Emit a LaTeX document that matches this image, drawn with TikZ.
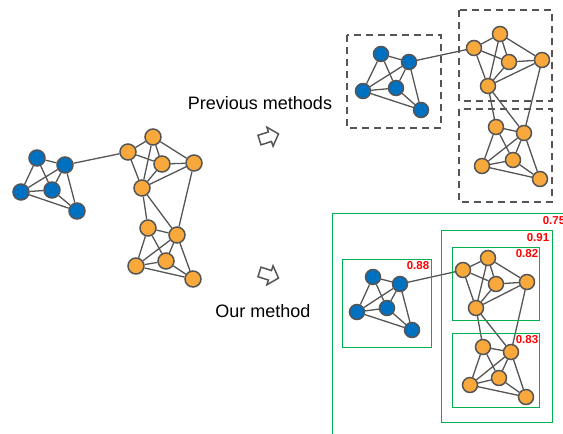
\documentclass[tikz,border=0pt]{standalone}
\usepackage{fontspec}
\setmainfont{Liberation Sans}
\definecolor{nblue}{HTML}{0070C0}
\definecolor{norange}{HTML}{F9A93B}
\definecolor{edgec}{HTML}{555555}
\definecolor{grn}{HTML}{00B050}
\tikzset{
  vb/.style={circle, draw=edgec, line width=1.5pt, fill=nblue, minimum size=15pt, inner sep=0pt},
  vo/.style={circle, draw=edgec, line width=1.5pt, fill=norange, minimum size=15pt, inner sep=0pt},
  lnk/.style={draw=edgec, line width=1.3pt},
  dbox/.style={draw=edgec, line width=1.8pt, dash pattern=on 7pt off 5pt},
  gbox/.style={draw=grn, line width=1pt},
  lab/.style={text=red, font=\bfseries\fontsize{11.5}{12}\selectfont, inner sep=0pt},
  ttl/.style={font=\fontsize{18}{20}\selectfont, inner sep=0pt},
  harrow/.style={draw=edgec, line width=1.5pt, line join=miter, fill=white}
}
\begin{document}
\begin{tikzpicture}[x=1pt,y=-1pt]
\useasboundingbox (0,0) rectangle (563,434);
\clip (0,0) rectangle (563,434);
% graph A (left)
\foreach \n/\x/\y in {1/37/158, 2/65/165, 3/21/192, 4/52/190, 5/77/211}
  \node[vb, minimum size=16pt] (Ab\n) at (\x,\y) {};
\foreach \n/\x/\y in {1/128/152, 2/153/137, 3/162/164, 4/194/163, 5/142/188}
  \node[vo, minimum size=16pt] (Ao\n) at (\x,\y) {};
\foreach \n/\x/\y in {1/148/228, 2/177/235, 3/136/266, 4/166/261, 5/193/279}
  \node[vo, minimum size=16pt] (Al\n) at (\x,\y) {};
% graph B (top right)
\foreach \n/\x/\y in {1/381/54, 2/409/62, 3/363/91, 4/396/88, 5/421/110}
  \node[vb] (Bb\n) at (\x,\y) {};
\foreach \n/\x/\y in {1/474/48, 2/500/34, 3/509/62, 4/542/60, 5/488/86}
  \node[vo] (Bo\n) at (\x,\y) {};
\foreach \n/\x/\y in {1/496/127, 2/524/133, 3/482/166, 4/513/160, 5/540/179}
  \node[vo] (Bl\n) at (\x,\y) {};
% graph C (bottom right)
\foreach \n/\x/\y in {1/373/277, 2/400/284, 3/357/312, 4/387/308, 5/412/330}
  \node[vb] (Cb\n) at (\x,\y) {};
\foreach \n/\x/\y in {1/463/270, 2/488/258, 3/496/284, 4/527/282, 5/476/308}
  \node[vo] (Co\n) at (\x,\y) {};
\foreach \n/\x/\y in {1/483/347, 2/511/352, 3/470/385, 4/499/378, 5/526/397}
  \node[vo] (Cl\n) at (\x,\y) {};
% edges
\foreach \g in {A,B,C}{
  \foreach \u/\v in {b1/b2, b1/b3, b1/b4, b2/b3, b2/b4, b2/b5, b3/b4, b3/b5, b4/b5,
                     o1/o2, o1/o3, o1/o5, o2/o3, o2/o4, o2/o5, o3/o4, o3/o5, o4/o5,
                     l1/l2, l1/l3, l1/l4, l2/l3, l2/l4, l2/l5, l3/l4, l3/l5, l4/l5,
                     b2/o1, o5/l1, o5/l2, o4/l2}
    \draw[lnk] (\g\u) -- (\g\v);
}
% dashed boxes
\draw[dbox] (347,35) rectangle (441,128);
\draw[dbox] (459,10) rectangle (552,101);
\draw[dbox] (459,109) rectangle (552,202);
% green boxes
\draw[gbox] (332,213) rectangle (620,470);
\draw[gbox] (441,230) rectangle (552,422);
\draw[gbox] (452,247) rectangle (539,320);
\draw[gbox] (452,333) rectangle (539,407);
\draw[gbox] (342,259) rectangle (431,347);
% scores
\node[lab] (s75) at (554,221) {0.75};
\node[lab] (s91) at (538,238) {0.91};
\node[lab] (s82) at (527,254) {0.82};
\node[lab] (s83) at (527,340) {0.83};
\node[lab] (s88) at (418,266) {0.88};
% titles
\node[ttl] (prev) at (260,103) {Previous methods};
\node[ttl] (ours) at (263,311) {Our method};
% hollow arrows
\begin{scope}[shift={(269,137)}, rotate=18]
  \draw[harrow] (-10,-5) -- (1,-5) -- (1,-10) -- (10,0) -- (1,10) -- (1,5) -- (-10,5) -- cycle;
\end{scope}
\begin{scope}[shift={(269,275)}, rotate=-18]
  \draw[harrow] (-10,-5) -- (1,-5) -- (1,-10) -- (10,0) -- (1,10) -- (1,5) -- (-10,5) -- cycle;
\end{scope}
\end{tikzpicture}
\end{document}
